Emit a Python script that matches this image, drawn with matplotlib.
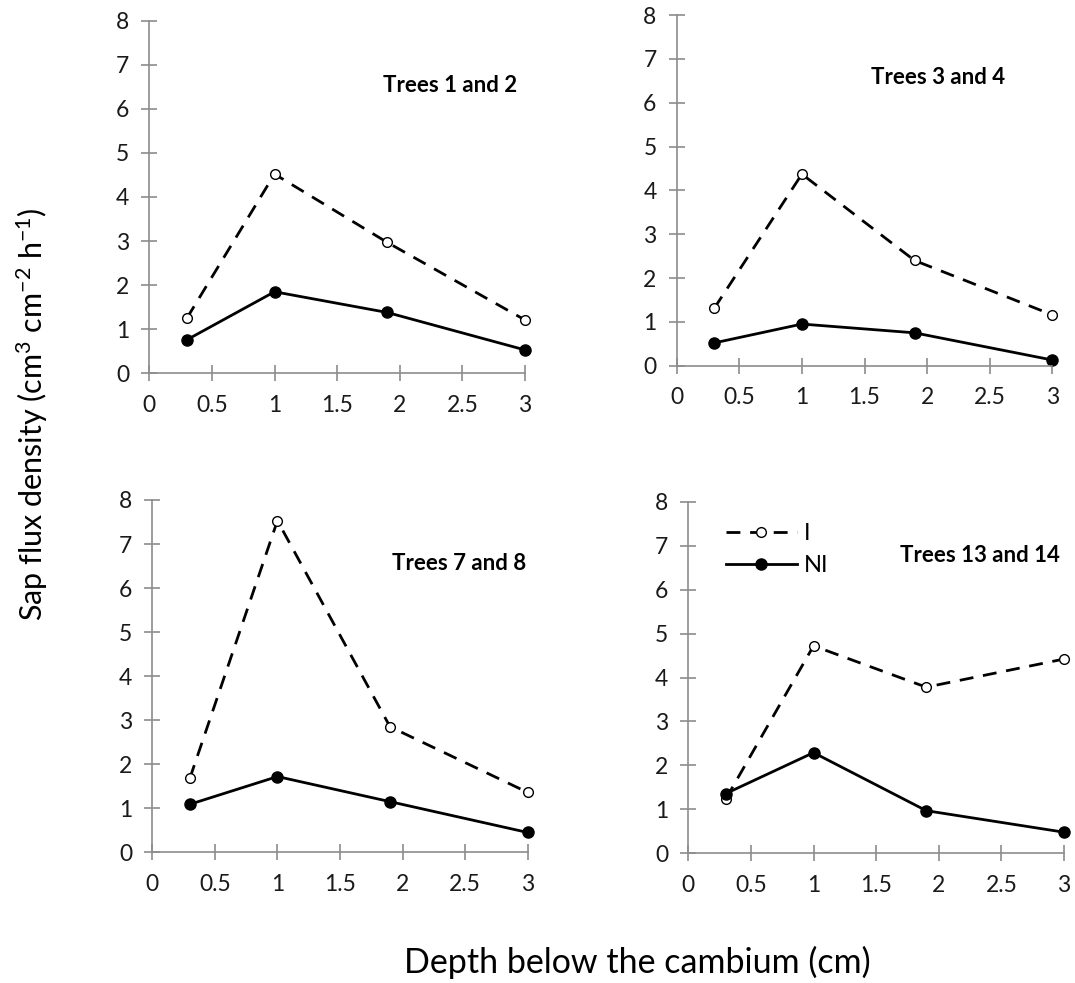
import matplotlib
matplotlib.use('Agg')
import matplotlib.pyplot as plt

plt.rcParams['font.family'] = ['Lato', 'DejaVu Sans']
plt.rcParams['mathtext.fontset'] = 'custom'
plt.rcParams['mathtext.rm'] = 'Lato'
plt.rcParams['mathtext.default'] = 'regular'

# depth below cambium (cm)
depth = [0.3, 1.0, 1.9, 3.0]

titles = ['Trees 1 and 2', 'Trees 3 and 4', 'Trees 7 and 8', 'Trees 13 and 14']

irrigated = [
    [1.25, 4.52, 2.97, 1.21],
    [1.31, 4.37, 2.40, 1.16],
    [1.68, 7.53, 2.85, 1.36],
    [1.24, 4.72, 3.78, 4.42],
]
non_irrigated = [
    [0.76, 1.85, 1.38, 0.53],
    [0.52, 0.95, 0.75, 0.13],
    [1.09, 1.72, 1.15, 0.45],
    [1.36, 2.29, 0.97, 0.48],
]

W, H = 1075, 983
# axes boxes in pixels: left, right, top, bottom
boxes = [
    (149.3, 525.0, 20.7, 373.3),
    (676.7, 1052.3, 15.0, 365.7),
    (152.3, 527.7, 500.0, 852.3),
    (688.3, 1064.0, 501.7, 853.3),
]
title_pos = [(0.80, 0.815), (0.697, 0.821), (0.818, 0.820), (0.776, 0.848)]

fig = plt.figure(figsize=(W / 100, H / 100), dpi=100)

for i in range(4):
    l, r, t, b = boxes[i]
    ax = fig.add_axes([l / W, 1 - b / H, (r - l) / W, (b - t) / H])
    ax.plot(depth, irrigated[i], color='black', lw=2.0, ls=(0, (5, 3.5)),
            marker='o', ms=7, mfc='white', mec='black', mew=1.0, label='I')
    ax.plot(depth, non_irrigated[i], color='black', lw=2.0,
            marker='o', ms=8, mfc='black', mec='black', label='NI')
    ax.set_xlim(0, 3)
    ax.set_ylim(0, 8)
    ax.set_xticks([0, 0.5, 1, 1.5, 2, 2.5, 3])
    ax.set_xticklabels(['0', '0.5', '1', '1.5', '2', '2.5', '3'])
    ax.set_yticks(range(9))
    for s in ['top', 'right']:
        ax.spines[s].set_visible(False)
    for s in ['left', 'bottom']:
        ax.spines[s].set_color('#8c8c8c')
        ax.spines[s].set_linewidth(1.2)
    ax.tick_params(axis='both', direction='inout', length=11, width=1.2,
                   color='#8c8c8c', labelsize=16.5, labelcolor='#1a1a1a')
    ax.tick_params(axis='x', pad=10)
    ax.tick_params(axis='y', pad=9)
    ax.patch.set_alpha(0)
    for ln in ax.lines:
        ln.set_clip_on(False)
    ax.text(title_pos[i][0], title_pos[i][1], titles[i], transform=ax.transAxes,
            ha='center', va='center', fontsize=16, fontweight='bold')
    if i == 3:
        ax.legend(loc='upper left', bbox_to_anchor=(0.075, 0.965), frameon=False,
                  fontsize=17, handlelength=3.0, handletextpad=0.3,
                  labelspacing=0.45, borderaxespad=0)

fig.text(32 / W, 1 - 414 / H, r'Sap flux density (cm$^{3}$ cm$^{-2}$ h$^{-1}$)',
         rotation=90, ha='center', va='center', fontsize=22)
fig.text(637 / W, 1 - 962 / H, 'Depth below the cambium (cm)',
         ha='center', va='center', fontsize=24.5)

fig.savefig('out.png', dpi=100)
